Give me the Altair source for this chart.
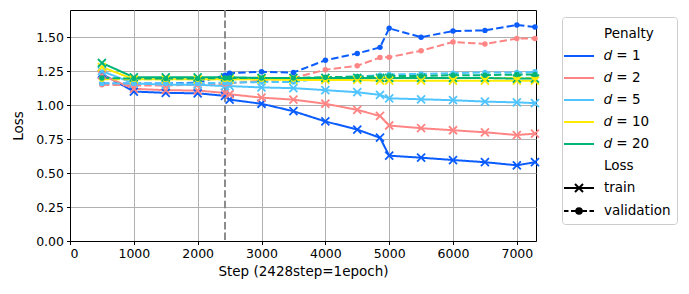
import altair as alt
import pandas as pd

steps = [500, 1000, 1500, 2000, 2428, 2500, 3000, 3500, 4000, 4500, 4856, 5000, 5500, 6000, 6500, 7000, 7284]

penalties = ["𝑑 = 1", "𝑑 = 2", "𝑑 = 5", "𝑑 = 10", "𝑑 = 20"]
colors = ["#0a5cff", "#ff8585", "#50c4ff", "#ffeb00", "#00b377"]

train = {
    "𝑑 = 1": [1.23, 1.10, 1.09, 1.087, 1.068, 1.04, 1.01, 0.955, 0.88, 0.82, 0.76, 0.628, 0.613, 0.596, 0.58, 0.557, 0.58],
    "𝑑 = 2": [1.22, 1.12, 1.11, 1.107, 1.09, 1.08, 1.055, 1.04, 1.01, 0.965, 0.92, 0.85, 0.83, 0.815, 0.80, 0.78, 0.79],
    "𝑑 = 5": [1.25, 1.16, 1.15, 1.15, 1.14, 1.14, 1.13, 1.125, 1.11, 1.095, 1.075, 1.05, 1.043, 1.036, 1.026, 1.02, 1.015],
    "𝑑 = 10": [1.28, 1.19, 1.19, 1.19, 1.19, 1.19, 1.19, 1.185, 1.185, 1.185, 1.18, 1.18, 1.18, 1.18, 1.18, 1.18, 1.18],
    "𝑑 = 20": [1.31, 1.205, 1.205, 1.205, 1.205, 1.205, 1.20, 1.20, 1.20, 1.20, 1.20, 1.20, 1.20, 1.20, 1.20, 1.195, 1.195],
}
validation = {
    "𝑑 = 1": [1.16, 1.16, 1.16, 1.165, 1.22, 1.235, 1.245, 1.24, 1.33, 1.38, 1.425, 1.565, 1.50, 1.545, 1.55, 1.59, 1.575],
    "𝑑 = 2": [1.15, 1.145, 1.145, 1.15, 1.155, 1.16, 1.18, 1.20, 1.26, 1.29, 1.35, 1.353, 1.40, 1.465, 1.45, 1.49, 1.49],
    "𝑑 = 5": [1.16, 1.16, 1.16, 1.16, 1.165, 1.165, 1.17, 1.17, 1.20, 1.21, 1.22, 1.225, 1.23, 1.235, 1.24, 1.24, 1.245],
    "𝑑 = 10": [1.19, 1.19, 1.19, 1.19, 1.19, 1.19, 1.19, 1.19, 1.19, 1.195, 1.2, 1.2, 1.2, 1.2, 1.2, 1.2, 1.2],
    "𝑑 = 20": [1.20, 1.195, 1.195, 1.195, 1.20, 1.20, 1.20, 1.20, 1.205, 1.21, 1.21, 1.215, 1.215, 1.22, 1.22, 1.225, 1.225],
}
epoch_step = [2428]

x_ticks = [0, 1000, 2000, 3000, 4000, 5000, 6000, 7000]
y_ticks = [0, 0.25, 0.5, 0.75, 1.0, 1.25, 1.5]

rows = []
for p in penalties:
    for s, v in zip(steps, train[p]):
        rows.append({"step": s, "loss": v, "penalty": p, "kind": "train"})
    for s, v in zip(steps, validation[p]):
        rows.append({"step": s, "loss": v, "penalty": p, "kind": "validation"})
df = pd.DataFrame(rows)

legend_domain = ["Penalty"] + penalties + ["Loss", "train", "validation"]
legend_colors = ["transparent"] + colors + ["transparent", "black", "black"]

LINE = "M-1.5,0H1.5"
TRAIN_SYM = "M-1.5,0H1.5M-0.4,-0.4L0.4,0.4M-0.4,0.4L0.4,-0.4"
VAL_SYM = ("M-1.5,0H-1.05M-0.8,0H-0.35M0.35,0H0.8M1.05,0H1.5"
           "M-0.28,0A0.28,0.28,0,1,1,0.28,0A0.28,0.28,0,1,1,-0.28,0Z")
legend_shapes = [LINE] * 7 + [TRAIN_SYM, VAL_SYM]
XPATH = "M-1,-1L1,1M-1,1L1,-1"

legend = alt.Legend(
    title=None,
    orient="none",
    legendX=492,
    legendY=7,
    symbolSize=400,
    symbolStrokeWidth=2,
    symbolOpacity=1,
    labelOffset=14,
    labelFontSize=13.5,
    labelFont="DejaVu Sans",
    labelColor="black",
    rowPadding=4.0,
    padding=6,
    strokeColor="#cccccc",
    fillColor="white",
    cornerRadius=3,
)

color_enc = alt.Color(
    "penalty:N",
    scale=alt.Scale(domain=legend_domain, range=legend_colors),
    legend=legend,
)

x_enc = alt.X(
    "step:Q",
    scale=alt.Scale(domain=[0, 7300], nice=False),
    axis=alt.Axis(values=x_ticks, format="d", title="Step (2428step=1epoch)"),
)
y_enc = alt.Y(
    "loss:Q",
    scale=alt.Scale(domain=[0, 1.7], nice=False),
    axis=alt.Axis(values=y_ticks, format=".2f", title="Loss"),
)

base = alt.Chart(df)

rule = alt.Chart(pd.DataFrame({"step": epoch_step})).mark_rule(
    color="#808080", strokeWidth=1.8, strokeDash=[7.4, 3.2]
).encode(x=alt.X("step:Q"))

lines = base.mark_line(strokeWidth=2).encode(
    x=x_enc,
    y=y_enc,
    color=color_enc,
    strokeDash=alt.StrokeDash(
        "kind:N",
        scale=alt.Scale(domain=["train", "validation"], range=[[1, 0], [7.4, 3.2]]),
        legend=None,
    ),
    detail="kind:N",
)

train_pts = base.transform_filter(alt.datum.kind == "train").mark_point(
    shape=XPATH, filled=False, size=64, strokeWidth=1.8, opacity=1
).encode(x=x_enc, y=y_enc, color=color_enc)

val_pts = base.transform_filter(alt.datum.kind == "validation").mark_point(
    shape="circle", filled=True, size=30, opacity=1
).encode(x=x_enc, y=y_enc, color=color_enc)

# legend-only layer (no rows survive the filter): supplies per-entry symbol shapes
legend_layer = base.transform_filter("false").mark_point(
    filled=False, opacity=1, strokeWidth=2
).encode(
    x=x_enc,
    y=y_enc,
    color=color_enc,
    shape=alt.Shape(
        "penalty:N",
        scale=alt.Scale(domain=legend_domain, range=legend_shapes),
        legend=legend,
    ),
)

chart = alt.layer(rule, lines, train_pts, val_pts, legend_layer).properties(
    width=466,
    height=231,
    autosize=alt.AutoSizeParams(type="none"),
    padding={"left": 62, "top": 2, "right": 145, "bottom": 45},
).configure_view(
    stroke="black", strokeWidth=1
).configure_axis(
    grid=True,
    gridColor="#b0b0b0",
    gridWidth=1,
    domainColor="black",
    tickColor="black",
    tickSize=3.5,
    labelColor="black",
    labelFont="DejaVu Sans",
    labelFontSize=12.5,
    titleFont="DejaVu Sans",
    titleFontSize=13.5,
    titleFontWeight="normal",
    titleColor="black",
    labelPadding=3,
).configure_axisY(
    titlePadding=10,
).configure_axisX(
    titlePadding=4,
)

chart.save("out.html", embed_options={"renderer": "svg", "actions": False})
